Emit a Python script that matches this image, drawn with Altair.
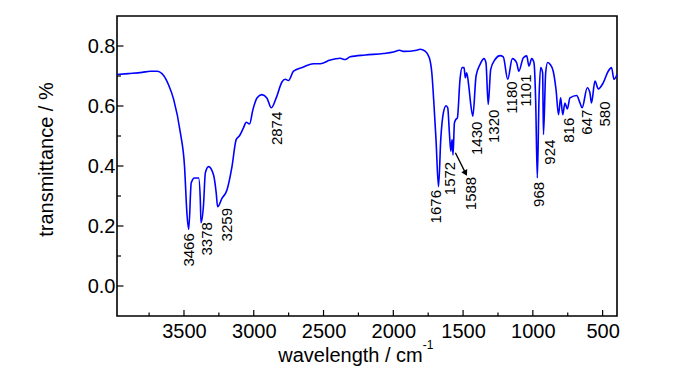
import altair as alt
import pandas as pd

# ---- spectrum (wavenumber in cm^-1, transmittance) ----
wavenumber = [3980, 3900, 3800, 3741, 3693, 3646, 3610, 3574, 3526, 3496, 3479, 3466, 3448, 3424,
              3395, 3383, 3378, 3360, 3347, 3324, 3288, 3269, 3259, 3228, 3192, 3156, 3126, 3102,
              3073, 3054, 3030, 3006, 2977, 2942, 2906, 2874, 2839, 2798, 2775, 2751, 2715, 2644,
              2572, 2524, 2452, 2381, 2345, 2309, 2200, 2071, 1999, 1956, 1928, 1832, 1808, 1772,
              1742, 1724, 1708, 1694, 1676, 1660, 1641, 1622, 1610, 1598, 1588, 1579, 1572, 1562,
              1552, 1541, 1522, 1507, 1493, 1484, 1474, 1459, 1445, 1430, 1407, 1378, 1350, 1336,
              1320, 1302, 1271, 1235, 1212, 1180, 1147, 1116, 1101, 1068, 1044, 1028, 1008, 992,
              980, 968, 956, 944, 930, 924, 908, 894, 877, 854, 834, 816, 801, 786, 770, 753, 734,
              686, 662, 647, 610, 591, 580, 555, 531, 496, 460, 436, 419, 397]
transmittance = [0.705, 0.708, 0.712, 0.716, 0.716, 0.702, 0.670, 0.622, 0.511, 0.398, 0.243, 0.189,
                 0.344, 0.360, 0.360, 0.287, 0.211, 0.270, 0.377, 0.398, 0.370, 0.310, 0.264, 0.292,
                 0.320, 0.398, 0.488, 0.501, 0.528, 0.546, 0.540, 0.588, 0.627, 0.638, 0.627, 0.594,
                 0.627, 0.680, 0.689, 0.685, 0.716, 0.730, 0.741, 0.741, 0.753, 0.759, 0.755, 0.764,
                 0.770, 0.775, 0.780, 0.786, 0.782, 0.786, 0.789, 0.783, 0.761, 0.711, 0.600, 0.488,
                 0.331, 0.488, 0.578, 0.601, 0.594, 0.510, 0.449, 0.488, 0.437, 0.544, 0.555, 0.560,
                 0.689, 0.728, 0.728, 0.694, 0.711, 0.666, 0.605, 0.566, 0.700, 0.739, 0.758, 0.744,
                 0.605, 0.722, 0.755, 0.768, 0.764, 0.689, 0.758, 0.744, 0.716, 0.761, 0.767, 0.733,
                 0.758, 0.744, 0.622, 0.360, 0.622, 0.728, 0.711, 0.505, 0.711, 0.745, 0.739, 0.716,
                 0.655, 0.571, 0.627, 0.571, 0.610, 0.590, 0.627, 0.635, 0.610, 0.594, 0.661, 0.644,
                 0.610, 0.683, 0.657, 0.677, 0.716, 0.728, 0.689, 0.705]

# ---- peak annotations ----
peak_labels = ["3466", "3378", "3259", "2874", "1676", "1572", "1588", "1430", "1320",
               "1180", "1101", "968", "924", "816", "647", "580"]
label_x = [3467, 3333, 3192, 2834, 1694, 1593, 1445, 1398, 1278, 1152, 1051, 956, 877, 739, 610, 484]
label_y = [0.176, 0.213, 0.260, 0.581, 0.320, 0.414, 0.364, 0.548, 0.588, 0.682, 0.705, 0.347,
           0.488, 0.561, 0.588, 0.615]
arrow_x = [1555, 1482]
arrow_y = [0.444, 0.376]

# ---- axis ticks ----
x_major = [3500, 3000, 2500, 2000, 1500, 1000, 500]
x_minor = [3750, 3250, 2750, 2250, 1750, 1250, 750]
y_major = [0.0, 0.2, 0.4, 0.6, 0.8]
y_minor = [0.1, 0.3, 0.5, 0.7]

FONT = "Liberation Sans"
x_scale = alt.Scale(domain=[397, 3980], reverse=True, nice=False, zero=False)
y_scale = alt.Scale(domain=[-0.1, 0.9], nice=False, zero=False)
x_axis = alt.Axis(values=x_major, format="d", title="wavelength / cm",
                  ticks=False, tickSize=0, domain=False, grid=False, labelPadding=5,
                  titleX=233, titleY=45, titleAlign="center", titleBaseline="alphabetic")
y_axis = alt.Axis(values=y_major, format=".1f", title="transmittance / %",
                  ticks=False, tickSize=0, domain=False, grid=False, labelPadding=2,
                  titleX=-65, titleY=143, titleAngle=270, titleAlign="center",
                  titleBaseline="alphabetic")


def X(field):
    return alt.X(field, scale=x_scale, axis=x_axis)


def Y(field):
    return alt.Y(field, scale=y_scale, axis=y_axis)


spec_df = pd.DataFrame({"wn": wavenumber, "T": transmittance})
line = alt.Chart(spec_df).mark_line(color="#0000ff", strokeWidth=1.6, interpolate="monotone").encode(
    x=X("wn:Q"), y=Y("T:Q"))

xt_major = alt.Chart(pd.DataFrame({"v": x_major})).mark_rule(color="black", strokeWidth=1.2).encode(
    x=X("v:Q"), y=alt.value(300), y2=alt.value(294))
xt_minor = alt.Chart(pd.DataFrame({"v": x_minor})).mark_rule(color="black", strokeWidth=1.2).encode(
    x=X("v:Q"), y=alt.value(300), y2=alt.value(296.5))
yt_major = alt.Chart(pd.DataFrame({"w": y_major})).mark_rule(color="black", strokeWidth=1.2).encode(
    y=Y("w:Q"), x=alt.value(0), x2=alt.value(6.5))
yt_minor = alt.Chart(pd.DataFrame({"w": y_minor})).mark_rule(color="black", strokeWidth=1.2).encode(
    y=Y("w:Q"), x=alt.value(0), x2=alt.value(4))

lab_df = pd.DataFrame({"lx": label_x, "ly": label_y, "label": peak_labels})
labels = alt.Chart(lab_df).mark_text(angle=270, align="right", baseline="middle", fontSize=15,
                                     font=FONT, color="black").encode(
    x=X("lx:Q"), y=Y("ly:Q"), text="label:N")

arr_df = pd.DataFrame({"ax": arrow_x, "ay": arrow_y, "o": [0, 1]})
arrow_line = alt.Chart(arr_df).mark_line(color="black", strokeWidth=1.4).encode(
    x=X("ax:Q"), y=Y("ay:Q"), order="o:Q")
arrow_head = alt.Chart(arr_df.iloc[[1]]).mark_point(shape="triangle-up", angle=153, filled=True,
                                                   size=45, color="black", opacity=1).encode(
    x=X("ax:Q"), y=Y("ay:Q"))

sup = alt.Chart(pd.DataFrame({"t": ["-1"]})).mark_text(fontSize=12, font=FONT, color="black",
                                                       align="center", baseline="middle").encode(
    text="t:N", x=alt.value(311), y=alt.value(329))

chart = alt.layer(line, xt_major, xt_minor, yt_major, yt_minor, arrow_line, arrow_head, labels, sup).properties(
    width=500, height=300, autosize="none",
    padding={"left": 109, "top": 8, "right": 20, "bottom": 50},
).configure_view(stroke="black", strokeWidth=1.6).configure_axis(
    labelFont=FONT, titleFont=FONT, labelFontSize=20, titleFontSize=20, titleFontWeight="normal",
    labelColor="black", titleColor="black")

chart.save("out.html", embed_options={"renderer": "svg", "actions": False})
